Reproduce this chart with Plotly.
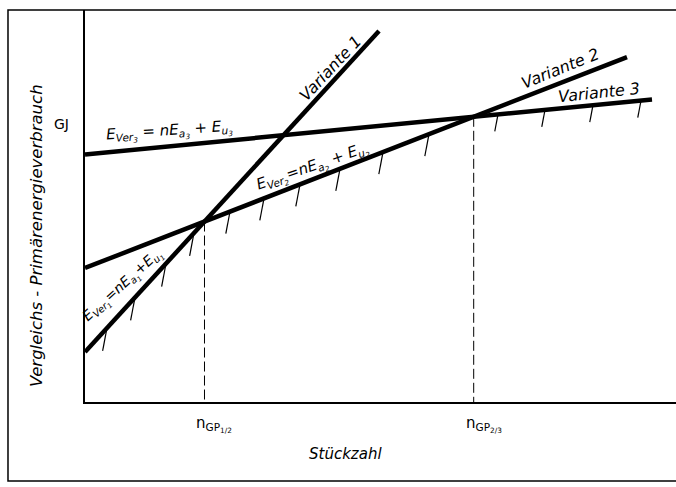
import plotly.graph_objects as go

# ---- data (schematic units: n = Stückzahl, E = energy) ----
variants = ["Variante 1", "Variante 2", "Variante 3"]
E_u = [50, 134, 247.5]        # fixed share (intercept)
E_a = [1.092, 0.389, 0.097]   # per-piece share (slope)
n_end = [294, 542, 567]       # drawn length of each line
hatch_n = [
    [22, 50, 81, 109],
    [145, 179, 215, 255, 298, 344],
    [413, 460, 508, 556],
]
hatch_len = [23, 22, 17]
y_title = "Vergleichs - Primärenergieverbrauch"
y_unit = "GJ"
x_title = "Stückzahl"
gp_labels = ["n<sub>GP<sub>1/2</sub></sub>", "n<sub>GP<sub>2/3</sub></sub>"]

def E(i, n):
    return E_u[i] + E_a[i] * n

# break-even points
n12 = (E_u[1] - E_u[0]) / (E_a[0] - E_a[1])
n23 = (E_u[2] - E_u[1]) / (E_a[1] - E_a[2])
gp_n = [n12, n23]
gp_E = [E(0, n12), E(1, n23)]

FONT = "DejaVu Sans"
fig = go.Figure()

# main lines
for i in range(3):
    fig.add_trace(go.Scatter(x=[0, n_end[i]], y=[E(i, 0), E(i, n_end[i])],
                             mode="lines", line=dict(color="black", width=4.5),
                             hoverinfo="skip", showlegend=False))

# hatch marks on lower envelope
for i in range(3):
    xs, ys = [], []
    for n in hatch_n[i]:
        y0 = E(i, n)
        xs += [n, n - 0.19 * hatch_len[i], None]
        ys += [y0, y0 - hatch_len[i], None]
    fig.add_trace(go.Scatter(x=xs, y=ys, mode="lines",
                             line=dict(color="black", width=1.2),
                             hoverinfo="skip", showlegend=False))

# dashed verticals at break-even points
for n, e in zip(gp_n, gp_E):
    fig.add_trace(go.Scatter(x=[n, n], y=[e, 0], mode="lines",
                             line=dict(color="black", width=1, dash="10px,4px"),
                             hoverinfo="skip", showlegend=False))

ann = []
def A(size=15, **kw):
    base = dict(showarrow=False, xanchor="center", yanchor="middle",
                font=dict(family=FONT, size=size, color="black"))
    base.update(kw)
    ann.append(base)

# line labels
A(x=245, y=334, text="<i>" + variants[0] + "</i>", textangle=-47, size=16)
A(x=475, y=334, text="<i>" + variants[1] + "</i>", textangle=-22, size=16)
A(x=514, y=310, text="<i>" + variants[2] + "</i>", textangle=-6, size=16)

# equations
A(x=84, y=271, text="<i>E<sub>Ver<sub>3</sub></sub> = nE<sub>a<sub>3</sub></sub> + E<sub>u<sub>3</sub></sub></i>", textangle=-4, size=15)
A(x=227, y=235, text="<i>E<sub>Ver<sub>2</sub></sub>=nE<sub>a<sub>2</sub></sub> + E<sub>u<sub>2</sub></sub></i>", textangle=-19, size=15)
A(x=38, y=116, text="<i>E<sub>Ver<sub>1</sub></sub>=nE<sub>a<sub>1</sub></sub>+E<sub>u<sub>1</sub></sub></i>", textangle=-42, size=14)

# break-even tick labels
for n, t in zip(gp_n, gp_labels):
    A(x=n, xref="x", y=-0.058, yref="paper", text=t, xshift=10, size=15)

# axis titles
A(x=260, xref="x", y=-0.133, yref="paper", text="<i>" + x_title + "</i>", size=15)
A(x=-0.081, xref="paper", y=0.4235, yref="paper", text="<i>" + y_title + "</i>", textangle=-90, size=16.5)
A(x=-0.039, xref="paper", y=0.709, yref="paper", text=y_unit, size=14)

fig.update_layout(
    width=676, height=487,
    margin=dict(l=85, r=0, t=10, b=85),
    paper_bgcolor="white", plot_bgcolor="white",
    showlegend=False,
    annotations=ann,
    xaxis=dict(range=[0, 591], showgrid=False, zeroline=False, showticklabels=False,
               showline=True, linecolor="black", linewidth=2, ticks=""),
    yaxis=dict(range=[0, 392], showgrid=False, zeroline=False, showticklabels=False,
               showline=True, linecolor="black", linewidth=2, ticks=""),
    shapes=[dict(type="rect", xref="paper", yref="paper",
                 x0=-0.1303, x1=1.05, y0=-0.2015, y1=1.0,
                 line=dict(color="black", width=1.5), layer="below")],
)

fig.write_html("out.html", config={"displayModeBar": False},
               post_script="document.body.style.margin='0';document.body.style.overflow='hidden';")
